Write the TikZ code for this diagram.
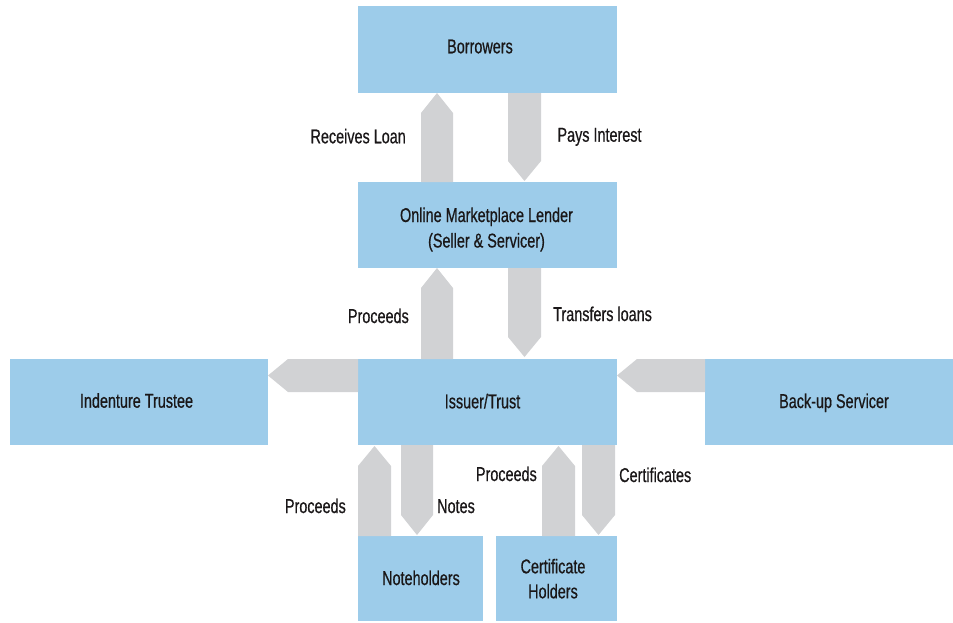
\documentclass[tikz,border=0pt]{standalone}
\usepackage{fontspec}
\setmainfont{Liberation Sans}[FakeStretch=0.72,FakeBold=0.6]
\definecolor{boxblue}{HTML}{9DCCEA}
\definecolor{arrgray}{HTML}{D1D2D4}
\definecolor{txt}{HTML}{1A1718}
\newcommand{\uarrow}[4]{\fill[blockarrow] (#1,#3) -- (#1,#4+20) -- ({(#1+#2)/2},#4) -- (#2,#4+20) -- (#2,#3) -- cycle;}
\newcommand{\darrow}[4]{\fill[blockarrow] (#1,#3) -- (#1,#4-20) -- ({(#1+#2)/2},#4) -- (#2,#4-20) -- (#2,#3) -- cycle;}
\newcommand{\larrow}[4]{\fill[blockarrow] (#3,#1) -- (#4+20,#1) -- (#4,{(#1+#2)/2}) -- (#4+20,#2) -- (#3,#2) -- cycle;}
\begin{document}
\begin{tikzpicture}[x=1pt,y=-1pt,
  box/.style={fill=boxblue,draw=none,inner sep=0pt},
  lbl/.style={inner sep=0pt,text=txt,font=\fontsize{20}{26}\selectfont},
  blockarrow/.style={fill=arrgray}]
\useasboundingbox (0,0) rectangle (953,622);
% boxes
\node[box,minimum width=259pt,minimum height=87pt] (borr) at (487.5,49.5) {};
\node[box,minimum width=259pt,minimum height=86pt] (oml) at (487.5,225) {};
\node[box,minimum width=259pt,minimum height=86pt] (iss) at (487.5,402) {};
\node[box,minimum width=258pt,minimum height=86pt] (ind) at (139,402) {};
\node[box,minimum width=248pt,minimum height=86pt] (bus) at (829,402) {};
\node[box,minimum width=125pt,minimum height=85pt] (noteh) at (420.5,578.5) {};
\node[box,minimum width=121pt,minimum height=85pt] (certh) at (556.5,578.5) {};
% box texts
\node[lbl,anchor=base] (tborr) at (480,53.3) {Borrowers};
\node[lbl,anchor=base] (toml1) at (486.5,222) {Online Marketplace Lender};
\node[lbl,anchor=base] (toml2) at (486.5,247.5) {(Seller \& Servicer)};
\node[lbl,anchor=base] (tiss) at (482.5,408.3) {Issuer/Trust};
\node[lbl,anchor=base] (tind) at (136.5,407.7) {Indenture Trustee};
\node[lbl,anchor=base] (tbus) at (834,408) {Back-up Servicer};
\node[lbl,anchor=base] (tnoteh) at (421,585) {Noteholders};
\node[lbl,anchor=base] (tcert1) at (553,573.3) {Certificate};
\node[lbl,anchor=base] (tcert2) at (553,598.3) {Holders};
% arrows
\uarrow{421}{453}{182}{93}
\darrow{508}{541}{93}{181}
\uarrow{421}{453}{359}{268}
\darrow{508}{541}{268}{357}
\larrow{359}{392}{358}{268}
\larrow{359}{392}{705}{617}
\uarrow{358}{391}{536}{446}
\darrow{401}{433}{445}{535}
\uarrow{542}{575}{536}{446}
\darrow{582}{615}{445}{535}
% labels
\node[lbl,anchor=base east] (l1) at (406,143.3) {Receives Loan};
\node[lbl,anchor=base west] (l2) at (557.3,141.7) {Pays Interest};
\node[lbl,anchor=base east] (l3) at (409,323) {Proceeds};
\node[lbl,anchor=base west] (l4) at (553,321) {Transfers loans};
\node[lbl,anchor=base east] (l5) at (346,513) {Proceeds};
\node[lbl,anchor=base west] (l6) at (437,513) {Notes};
\node[lbl,anchor=base east] (l7) at (537,481) {Proceeds};
\node[lbl,anchor=base west] (l8) at (619,482) {Certificates};
\end{tikzpicture}
\end{document}
